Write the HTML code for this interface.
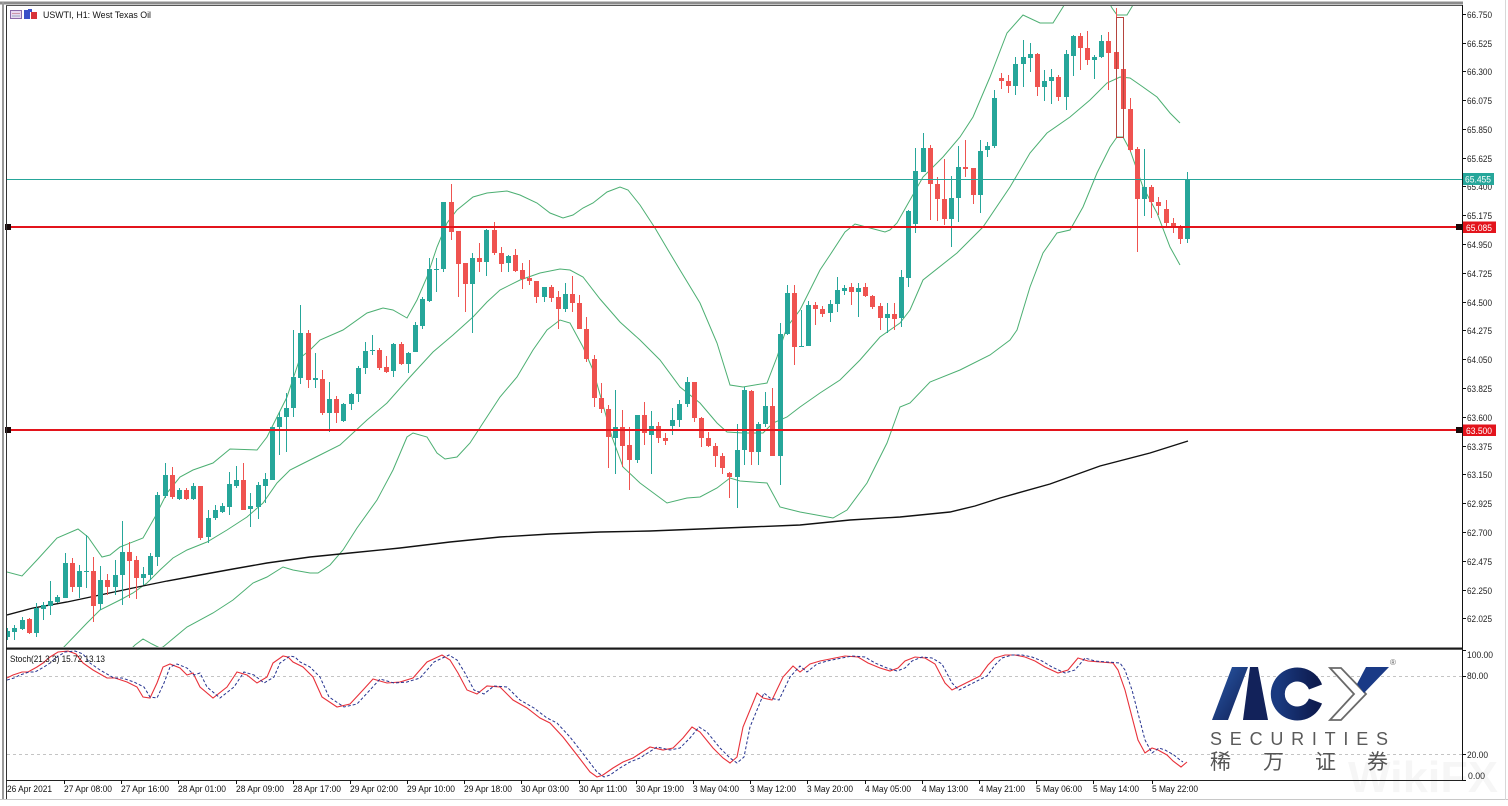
<!DOCTYPE html>
<html><head><meta charset="utf-8"><style>
html,body{margin:0;padding:0;background:#fff;}
svg{display:block;}
</style></head><body>
<svg id="s" width="1508" height="806" xmlns="http://www.w3.org/2000/svg" font-family="'Liberation Sans', Tahoma, sans-serif">
<defs>
<clipPath id="mc"><rect x="7" y="6" width="1455" height="641"/></clipPath>
<clipPath id="sc"><rect x="7" y="650" width="1455" height="130"/></clipPath>
<linearGradient id="gA" x1="0" y1="0" x2="1" y2="1">
<stop offset="0" stop-color="#2a5bab"/><stop offset="1" stop-color="#0f1d52"/></linearGradient>
<linearGradient id="gC" x1="0" y1="0" x2="1" y2="0">
<stop offset="0" stop-color="#1a3a80"/><stop offset="1" stop-color="#0e1c50"/></linearGradient>
</defs>
<rect x="0" y="0" width="1508" height="806" fill="#fff"/>

<!-- main panel content -->
<g clip-path="url(#mc)">
<!-- Bollinger upper -->
<polyline fill="none" stroke="#4caf72" stroke-width="1" points="7,572 22,576 37,560 57,538 78,529 88,537 102,557 110,555 120,547 143,538 155,517 167,493 180,477 193,470 213,463 230,449 257,450 267,437 277,417 287,397 300,358 310,350 320,340 343,330 367,313 383,308 393,310 407,318 417,300 427,277 437,247 447,223 457,210 473,197 487,193 507,191 520,195 537,203 550,213 563,218 573,215 583,208 593,203 607,192 620,187 628,190 640,205 655,228 668,250 680,270 700,303 717,343 730,385 743,387 767,383 777,357 787,327 800,310 820,270 830,255 845,232 855,224 870,228 885,232 890,230 897,223 910,200 923,177 943,157 960,137 973,117 990,77 1007,33 1023,15 1040,23 1053,23 1063,7 1070,-5 1105,-5 1112,8 1117,15 1127,15 1133,5 1140,-10 1180,-20"/>
<!-- Bollinger middle -->
<polyline fill="none" stroke="#4caf72" stroke-width="1" points="7,680 40,665 63,648 87,623 100,610 120,600 133,593 147,583 160,570 173,558 187,550 207,542 227,530 247,517 263,503 277,483 290,470 300,465 320,455 340,445 367,420 387,403 410,377 433,352 453,335 473,317 487,302 500,290 520,280 540,273 560,269 570,270 583,277 600,299 620,322 640,340 660,360 680,387 700,403 717,423 727,432 743,433 763,433 773,423 787,417 800,407 820,393 840,380 860,360 880,337 900,323 910,310 923,280 957,253 983,227 1010,187 1030,153 1047,133 1070,117 1090,100 1107,83 1120,77 1130,78 1143,87 1157,97 1170,113 1180,123"/>
<!-- Bollinger lower -->
<polyline fill="none" stroke="#4caf72" stroke-width="1" points="125,655 135,645 143,639 152,644 160,648 163,647 187,627 213,613 233,600 253,583 267,577 283,567 293,570 310,573 318,573 330,565 343,550 357,528 377,500 393,470 407,437 413,433 427,437 437,453 445,459 457,457 470,443 483,423 500,397 517,377 533,350 547,330 560,320 570,323 583,347 593,370 603,405 612,437 623,467 640,483 667,503 687,498 700,497 717,488 730,478 740,481 767,483 780,507 800,512 833,518 847,510 867,483 887,443 900,407 910,403 930,382 960,370 990,355 1010,340 1017,330 1030,287 1043,253 1057,233 1070,230 1083,207 1097,173 1110,147 1117,137 1123,137 1130,150 1143,187 1157,213 1170,247 1180,265"/>
<!-- long MA -->
<polyline fill="none" stroke="#111" stroke-width="1.4" points="7,615 33,608 67,602 100,595 133,588 167,581 200,575 233,569 267,563 310,557 350,553 400,548 450,542 500,537 550,534 600,532 650,531 700,529 750,527 800,525 850,520 900,517 950,512 975,506 1000,498 1050,484 1100,466 1150,453 1188,441"/>
<g id="cd"></g>
<rect x="1116.5" y="17.5" width="7" height="120" fill="none" stroke="#b5443e" stroke-width="1"/>
<!-- horizontal levels -->
<line x1="7" x2="1462" y1="179.5" y2="179.5" stroke="#26a69a" stroke-width="1"/>
<line x1="7" x2="1462" y1="227" y2="227" stroke="#e3141c" stroke-width="2"/>
<line x1="7" x2="1462" y1="430" y2="430" stroke="#e3141c" stroke-width="2"/>
</g>
<rect x="5" y="224" width="6" height="6" fill="#1a0a0a"/>
<rect x="5" y="427" width="6" height="6" fill="#1a0a0a"/>
<rect x="1456" y="224" width="6" height="6" fill="#1a0a0a"/>
<rect x="1456" y="427" width="6" height="6" fill="#1a0a0a"/>

<!-- stoch panel -->
<line x1="7" x2="1462" y1="676.5" y2="676.5" stroke="#c4c4c4" stroke-dasharray="3,3"/>
<line x1="7" x2="1462" y1="754.5" y2="754.5" stroke="#c4c4c4" stroke-dasharray="3,3"/>
<g clip-path="url(#sc)">
<polyline id="kline" fill="none" stroke="#e8313a" stroke-width="1.1" points="7,678 13,675 22,672 28,672 37,667 43,663 50,657 58,652 68,651 76,654 83,663 93,670 107,678 115,678 127,682 137,687 143,697 150,698 157,683 163,667 170,664 180,668 187,675 193,673 200,687 213,698 227,687 237,672 247,675 257,683 267,677 273,663 283,656 288,657 293,662 303,667 313,677 322,697 337,707 350,704 363,690 373,679 380,681 387,683 400,682 413,678 427,662 442,655 450,660 458,673 467,690 477,694 487,686 500,687 513,700 527,708 540,718 550,723 563,737 577,755 590,772 597,777 603,775 613,768 623,762 633,758 650,747 663,750 673,748 683,738 692,727 700,732 713,748 723,758 730,763 737,757 743,727 757,693 763,698 772,700 783,677 793,666 800,672 810,664 820,661 830,659 845,656 858,657 868,663 880,668 890,671 898,668 905,661 915,657 925,658 935,664 945,683 952,690 960,686 970,681 980,676 988,665 995,658 1005,655 1015,655 1025,657 1035,661 1045,667 1058,673 1068,670 1078,658 1088,661 1100,662 1113,663 1118,670 1125,690 1132,717 1138,740 1145,753 1152,748 1158,750 1167,755 1173,761 1181,767 1187,762"/>
<polyline fill="none" stroke="#26338f" stroke-width="1" stroke-dasharray="3,2" transform="translate(7,0)" points="0,680 7,678 13,675 22,672 28,672 37,667 43,663 50,657 58,652 68,651 76,654 83,663 93,670 107,678 115,678 127,682 137,687 143,697 150,698 157,683 163,667 170,664 180,668 187,675 193,673 200,687 213,698 227,687 237,672 247,675 257,683 267,677 273,663 283,656 288,657 293,662 303,667 313,677 322,697 337,707 350,704 363,690 373,679 380,681 387,683 400,682 413,678 427,662 442,655 450,660 458,673 467,690 477,694 487,686 500,687 513,700 527,708 540,718 550,723 563,737 577,755 590,772 597,777 603,775 613,768 623,762 633,758 650,747 663,750 673,748 683,738 692,727 700,732 713,748 723,758 730,763 737,757 743,727 757,693 763,698 772,700 783,677 793,666 800,672 810,664 820,661 830,659 845,656 858,657 868,663 880,668 890,671 898,668 905,661 915,657 925,658 935,664 945,683 952,690 960,686 970,681 980,676 988,665 995,658 1005,655 1015,655 1025,657 1035,661 1045,667 1058,673 1068,670 1078,658 1088,661 1100,662 1113,663 1118,670 1125,690 1132,717 1138,740 1145,753 1152,748 1158,750 1167,755 1173,760 1176,762"/>
</g>
<text x="10" y="662" font-size="9.5" fill="#111" textLength="95" lengthAdjust="spacingAndGlyphs">Stoch(21,3,3) 15.72 13.13</text>

<!-- watermark -->
<text x="1348" y="792" font-size="44" font-weight="bold" fill="#000" fill-opacity="0.035" textLength="150" lengthAdjust="spacingAndGlyphs">WikiFX</text>

<!-- ACY logo -->
<g>
<polygon points="1212,720 1228,720 1248,667 1232,667" fill="url(#gA)"/>
<polygon points="1250,667 1258,667 1268,720 1243,720" fill="#12225a"/>
<path d="M1315.5,687 A19.5,19.5 0 1 0 1315.5,701" fill="none" stroke="url(#gC)" stroke-width="14"/>
<polygon points="1330,668 1341,668 1366,694 1341,720 1330,720 1354,694" fill="#fff" stroke="#6a6a6a" stroke-width="1.8" stroke-linejoin="miter"/>
<polygon points="1366,667 1389,667 1364,693 1357,684" fill="#1a3a86"/>
<text x="1390" y="665" font-size="8" fill="#666">®</text>
<text x="1210" y="745" font-size="18" fill="#5a5a5a" textLength="178" lengthAdjust="spacing">SECURITIES</text>
<g font-family="'Liberation Sans','Noto Sans CJK SC',sans-serif" font-size="21" fill="#555">
<text x="1210" y="769">稀</text>
<text x="1263" y="769">万</text>
<text x="1315" y="769">证</text>
<text x="1367" y="769">券</text>
</g>
</g>

<!-- frame -->
<line x1="0" x2="1463" y1="3" y2="3" stroke="#8c8c8c" stroke-width="3"/>
<line x1="3" x2="3" y1="2" y2="800" stroke="#9a9a9a" stroke-width="2"/>
<line x1="6.5" x2="6.5" y1="5" y2="800" stroke="#333" stroke-width="1"/>
<line x1="6" x2="1463" y1="5.5" y2="5.5" stroke="#555" stroke-width="1"/>
<line x1="1462.5" x2="1462.5" y1="5" y2="781" stroke="#111" stroke-width="1"/>
<rect x="6" y="647.5" width="1457" height="2.2" fill="#1a1a1a"/>
<line x1="6" x2="1463" y1="780.5" y2="780.5" stroke="#222" stroke-width="1"/>
<line x1="0" x2="1508" y1="799.5" y2="799.5" stroke="#c8c8c8" stroke-width="1"/>
<line x1="1505.5" x2="1505.5" y1="0" y2="800" stroke="#d8d8d8" stroke-width="1"/>

<!-- title -->
<rect x="10.5" y="10.5" width="11" height="8" fill="#e8d8f0" stroke="#8a6aa8"/>
<line x1="12" x2="20" y1="13.5" y2="13.5" stroke="#c9a"/><line x1="12" x2="20" y1="16" y2="16" stroke="#9ab"/>
<rect x="24" y="10" width="6" height="9" fill="#3a50c8"/>
<rect x="31" y="12" width="6" height="7" fill="#d8333a"/>
<rect x="28" y="9" width="4" height="3" fill="#3a50c8"/>
<text x="43" y="18" font-size="9.5" fill="#111" textLength="108" lengthAdjust="spacingAndGlyphs">USWTI, H1:  West Texas Oil</text>

<!-- price axis -->
<g font-size="9" fill="#222" stroke="none">
<g stroke="#111" stroke-width="1">
<line x1="1462" x2="1466" y1="14.5" y2="14.5"/><line x1="1462" x2="1466" y1="43.5" y2="43.5"/><line x1="1462" x2="1466" y1="71.5" y2="71.5"/><line x1="1462" x2="1466" y1="100.5" y2="100.5"/><line x1="1462" x2="1466" y1="129.5" y2="129.5"/><line x1="1462" x2="1466" y1="158.5" y2="158.5"/><line x1="1462" x2="1466" y1="186.5" y2="186.5"/><line x1="1462" x2="1466" y1="215.5" y2="215.5"/><line x1="1462" x2="1466" y1="244.5" y2="244.5"/><line x1="1462" x2="1466" y1="273.5" y2="273.5"/><line x1="1462" x2="1466" y1="302.5" y2="302.5"/><line x1="1462" x2="1466" y1="330.5" y2="330.5"/><line x1="1462" x2="1466" y1="359.5" y2="359.5"/><line x1="1462" x2="1466" y1="388.5" y2="388.5"/><line x1="1462" x2="1466" y1="417.5" y2="417.5"/><line x1="1462" x2="1466" y1="446.5" y2="446.5"/><line x1="1462" x2="1466" y1="474.5" y2="474.5"/><line x1="1462" x2="1466" y1="503.5" y2="503.5"/><line x1="1462" x2="1466" y1="532.5" y2="532.5"/><line x1="1462" x2="1466" y1="561.5" y2="561.5"/><line x1="1462" x2="1466" y1="590.5" y2="590.5"/><line x1="1462" x2="1466" y1="618.5" y2="618.5"/>
<line x1="1462" x2="1466" y1="650.5" y2="650.5"/><line x1="1462" x2="1466" y1="676.5" y2="676.5"/><line x1="1462" x2="1466" y1="754.5" y2="754.5"/><line x1="1462" x2="1466" y1="780.5" y2="780.5"/>
</g>
<text x="1467" y="18" textLength="25" lengthAdjust="spacingAndGlyphs">66.750</text>
<text x="1467" y="47" textLength="25" lengthAdjust="spacingAndGlyphs">66.525</text>
<text x="1467" y="75" textLength="25" lengthAdjust="spacingAndGlyphs">66.300</text>
<text x="1467" y="104" textLength="25" lengthAdjust="spacingAndGlyphs">66.075</text>
<text x="1467" y="133" textLength="25" lengthAdjust="spacingAndGlyphs">65.850</text>
<text x="1467" y="162" textLength="25" lengthAdjust="spacingAndGlyphs">65.625</text>
<text x="1467" y="190" textLength="25" lengthAdjust="spacingAndGlyphs">65.400</text>
<text x="1467" y="219" textLength="25" lengthAdjust="spacingAndGlyphs">65.175</text>
<text x="1467" y="248" textLength="25" lengthAdjust="spacingAndGlyphs">64.950</text>
<text x="1467" y="277" textLength="25" lengthAdjust="spacingAndGlyphs">64.725</text>
<text x="1467" y="306" textLength="25" lengthAdjust="spacingAndGlyphs">64.500</text>
<text x="1467" y="334" textLength="25" lengthAdjust="spacingAndGlyphs">64.275</text>
<text x="1467" y="363" textLength="25" lengthAdjust="spacingAndGlyphs">64.050</text>
<text x="1467" y="392" textLength="25" lengthAdjust="spacingAndGlyphs">63.825</text>
<text x="1467" y="421" textLength="25" lengthAdjust="spacingAndGlyphs">63.600</text>
<text x="1467" y="450" textLength="25" lengthAdjust="spacingAndGlyphs">63.375</text>
<text x="1467" y="478" textLength="25" lengthAdjust="spacingAndGlyphs">63.150</text>
<text x="1467" y="507" textLength="25" lengthAdjust="spacingAndGlyphs">62.925</text>
<text x="1467" y="536" textLength="25" lengthAdjust="spacingAndGlyphs">62.700</text>
<text x="1467" y="565" textLength="25" lengthAdjust="spacingAndGlyphs">62.475</text>
<text x="1467" y="594" textLength="25" lengthAdjust="spacingAndGlyphs">62.250</text>
<text x="1467" y="622" textLength="25" lengthAdjust="spacingAndGlyphs">62.025</text>
<text x="1467" y="658" textLength="26" lengthAdjust="spacingAndGlyphs">100.00</text>
<text x="1467" y="679" textLength="21" lengthAdjust="spacingAndGlyphs">80.00</text>
<text x="1467" y="758" textLength="21" lengthAdjust="spacingAndGlyphs">20.00</text>
<text x="1468" y="779" textLength="17" lengthAdjust="spacingAndGlyphs">0.00</text>
</g>
<rect x="1463" y="173" width="31" height="12" fill="#26a69a"/>
<text x="1465" y="182.5" font-size="9" fill="#fff" textLength="26" lengthAdjust="spacingAndGlyphs">65.455</text>
<rect x="1463" y="221.5" width="33" height="11.5" fill="#e3141c"/>
<text x="1466" y="231" font-size="9" fill="#fff" textLength="26" lengthAdjust="spacingAndGlyphs">65.085</text>
<rect x="1463" y="424.5" width="33" height="11.5" fill="#e3141c"/>
<text x="1466" y="434" font-size="9" fill="#fff" textLength="26" lengthAdjust="spacingAndGlyphs">63.500</text>

<!-- time axis -->
<g stroke="#111" stroke-width="1">
<line x1="64.5" x2="64.5" y1="780" y2="784"/><line x1="121.5" x2="121.5" y1="780" y2="784"/><line x1="178.5" x2="178.5" y1="780" y2="784"/><line x1="236.5" x2="236.5" y1="780" y2="784"/><line x1="293.5" x2="293.5" y1="780" y2="784"/><line x1="350.5" x2="350.5" y1="780" y2="784"/><line x1="407.5" x2="407.5" y1="780" y2="784"/><line x1="464.5" x2="464.5" y1="780" y2="784"/><line x1="521.5" x2="521.5" y1="780" y2="784"/><line x1="579.5" x2="579.5" y1="780" y2="784"/><line x1="636.5" x2="636.5" y1="780" y2="784"/><line x1="693.5" x2="693.5" y1="780" y2="784"/><line x1="750.5" x2="750.5" y1="780" y2="784"/><line x1="807.5" x2="807.5" y1="780" y2="784"/><line x1="865.5" x2="865.5" y1="780" y2="784"/><line x1="922.5" x2="922.5" y1="780" y2="784"/><line x1="979.5" x2="979.5" y1="780" y2="784"/><line x1="1036.5" x2="1036.5" y1="780" y2="784"/><line x1="1093.5" x2="1093.5" y1="780" y2="784"/><line x1="1152.5" x2="1152.5" y1="780" y2="784"/>
</g>
<g font-size="9.5" fill="#111">
<text x="7" y="792" textLength="45" lengthAdjust="spacingAndGlyphs">26 Apr 2021</text>
<text x="64" y="792" textLength="48" lengthAdjust="spacingAndGlyphs">27 Apr 08:00</text>
<text x="121" y="792" textLength="48" lengthAdjust="spacingAndGlyphs">27 Apr 16:00</text>
<text x="178" y="792" textLength="48" lengthAdjust="spacingAndGlyphs">28 Apr 01:00</text>
<text x="236" y="792" textLength="48" lengthAdjust="spacingAndGlyphs">28 Apr 09:00</text>
<text x="293" y="792" textLength="48" lengthAdjust="spacingAndGlyphs">28 Apr 17:00</text>
<text x="350" y="792" textLength="48" lengthAdjust="spacingAndGlyphs">29 Apr 02:00</text>
<text x="407" y="792" textLength="48" lengthAdjust="spacingAndGlyphs">29 Apr 10:00</text>
<text x="464" y="792" textLength="48" lengthAdjust="spacingAndGlyphs">29 Apr 18:00</text>
<text x="521" y="792" textLength="48" lengthAdjust="spacingAndGlyphs">30 Apr 03:00</text>
<text x="579" y="792" textLength="48" lengthAdjust="spacingAndGlyphs">30 Apr 11:00</text>
<text x="636" y="792" textLength="48" lengthAdjust="spacingAndGlyphs">30 Apr 19:00</text>
<text x="693" y="792" textLength="46" lengthAdjust="spacingAndGlyphs">3 May 04:00</text>
<text x="750" y="792" textLength="46" lengthAdjust="spacingAndGlyphs">3 May 12:00</text>
<text x="807" y="792" textLength="46" lengthAdjust="spacingAndGlyphs">3 May 20:00</text>
<text x="865" y="792" textLength="46" lengthAdjust="spacingAndGlyphs">4 May 05:00</text>
<text x="922" y="792" textLength="46" lengthAdjust="spacingAndGlyphs">4 May 13:00</text>
<text x="979" y="792" textLength="46" lengthAdjust="spacingAndGlyphs">4 May 21:00</text>
<text x="1036" y="792" textLength="46" lengthAdjust="spacingAndGlyphs">5 May 06:00</text>
<text x="1093" y="792" textLength="46" lengthAdjust="spacingAndGlyphs">5 May 14:00</text>
<text x="1152" y="792" textLength="46" lengthAdjust="spacingAndGlyphs">5 May 22:00</text>
</g>
</svg>
<script>
(function(){
var D=[[637,631,628,640],[632,628,625,640],[629,620,617,630],[619,633,618,634],[633,608,603,637],[609,605,602,620],[606,601,581,615],[602,597,595,603],[598,563,553,598],[563,587,558,592],
[587,571,565,598],[572,571,535,588],[571,606,557,622],[604,580,566,610],[580,587,574,595],[587,575,560,595],[575,552,521,605],[552,561,542,598],[560,578,556,599],[578,574,567,585],
[575,556,553,580],[557,495,492,566],[496,475,463,498],[475,497,467,499],[499,490,488,500],[490,499,488,500],[499,486,483,500],[486,538,486,540],[537,518,510,543],[518,510,505,520],
[512,506,503,513],[507,484,472,515],[486,480,466,488],[480,510,463,510],[509,506,493,527],[507,485,482,519],[486,479,473,503],[480,427,427,480],[427,417,412,455],[417,408,393,452],
[408,377,330,417],[378,333,305,384],[333,380,330,388],[380,378,353,388],[379,413,370,415],[413,399,382,432],[399,413,396,423],[421,404,403,422],[404,394,393,410],[394,368,366,402],
[368,351,342,374],[351,350,335,355],[350,368,348,370],[367,372,356,373],[371,344,343,377],[344,364,342,365],[364,353,352,373],[352,325,322,352],[326,299,297,329],[301,269,258,302],
[270,269,258,292],[269,202,202,272],[202,232,184,240],[231,264,231,297],[263,284,263,312],[284,258,253,333],[258,262,243,272],[262,230,229,276],[230,253,222,255],[253,264,247,272],
[263,256,255,272],[255,271,249,272],[270,279,263,289],[278,281,260,285],[281,297,281,303],[297,287,287,302],[287,298,285,302],[297,309,291,329],[309,294,283,312],[294,303,276,312],
[303,329,295,329],[329,359,317,362],[359,398,355,407],[398,409,383,413],[409,437,405,468],[438,427,390,474],[427,446,410,467],[445,460,427,490],[460,415,415,463],[415,433,402,445],
[435,426,411,474],[426,438,422,443],[438,441,433,445],[426,420,408,435],[420,404,400,427],[404,382,377,407],[382,418,382,422],[418,438,417,447],[438,446,432,447],[446,456,443,467],
[456,468,453,474],[473,477,472,498],[477,450,424,508],[450,390,387,465],[391,452,390,465],[452,424,422,465],[424,406,392,427],[406,456,388,456],[456,334,323,485],[334,293,285,335],
[293,347,285,365],[347,346,310,347],[346,305,301,346],[305,309,302,325],[309,314,306,317],[313,304,300,322],[304,290,277,312],[291,288,285,295],[287,292,283,305],[292,288,283,317],
[287,296,283,297],[296,307,295,309],[306,318,303,330],[318,314,303,333],[314,319,303,330],[318,277,270,327],[278,211,210,287],[224,171,148,233],[172,148,133,172],[148,184,145,220],
[184,199,177,221],[199,219,159,225],[219,198,176,247],[198,167,146,222],[167,169,140,177],[168,195,168,204],[195,151,140,213],[150,146,142,157],[146,98,90,148],[78,81,73,89],
[81,86,75,93],[86,64,57,95],[64,57,40,87],[58,54,43,72],[54,87,53,96],[87,81,70,101],[81,77,69,104],[77,97,75,101],[97,54,50,110],[56,36,35,76],
[36,48,33,70],[48,60,31,65],[60,57,55,79],[57,41,35,58],[41,53,32,90],[52,69,8,137],[69,109,37,137],[109,150,98,152],[149,199,147,252],[199,187,149,216],
[187,202,185,218],[202,206,197,215],[209,223,200,228],[223,227,218,233],[226,239,225,244],[239,180,172,243]];
var NS="http://www.w3.org/2000/svg",g=document.getElementById("cd");
for(var i=0;i<D.length;i++){
 var c=D[i],o=c[0],cl=c[1],h=c[2],l=c[3];
 var xc=Math.round(7.3+7.15*i);
 var up=cl<=o,col=up?"#26a69a":"#ef5350";
 var top=Math.min(o,cl),bot=Math.max(o,cl);
 var ln=document.createElementNS(NS,"line");
 ln.setAttribute("x1",xc+0.5);ln.setAttribute("x2",xc+0.5);
 ln.setAttribute("y1",h);ln.setAttribute("y2",l);
 ln.setAttribute("stroke",col);ln.setAttribute("stroke-width","1");
 g.appendChild(ln);
 var r=document.createElementNS(NS,"rect");
 r.setAttribute("x",xc-2);r.setAttribute("y",top);
 r.setAttribute("width",5);r.setAttribute("height",Math.max(bot-top,1));
 r.setAttribute("fill",col);
 g.appendChild(r);
}
})();
</script>
</body></html>
